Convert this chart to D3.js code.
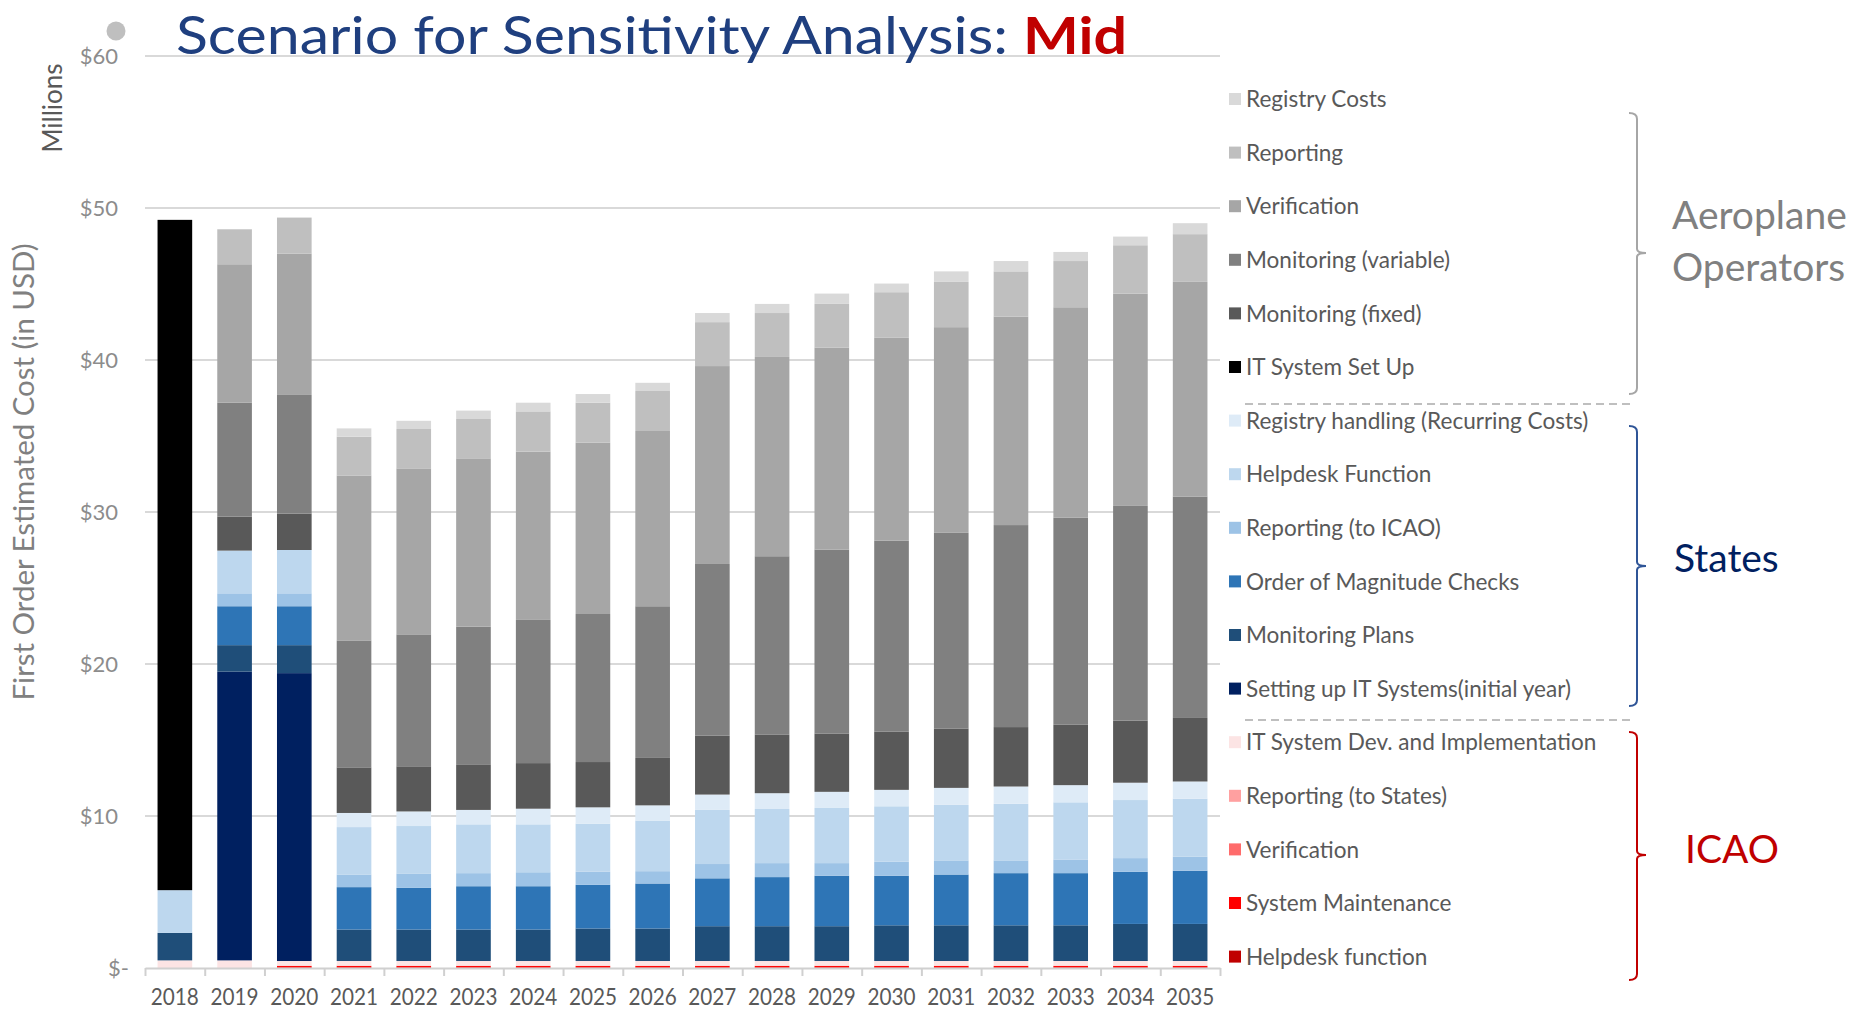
<!DOCTYPE html>
<html>
<head>
<meta charset="utf-8">
<script src="https://cdn.jsdelivr.net/npm/d3@7"></script>
<style>
  body { margin: 0; background: #fff; }
  svg { display: block; font-family: Lato, "Open Sans", sans-serif; }
</style>
</head>
<body>
<div id="main"></div>
<script>
const years = ["2018", "2019", "2020", "2021", "2022", "2023", "2024", "2025", "2026",
    "2027", "2028", "2029", "2030", "2031", "2032", "2033", "2034", "2035"];

// ICAO
const helpdeskIcao = [0, 0, 0.03, 0.03, 0.03, 0.03, 0.03, 0.03, 0.03, 0.03, 0.03, 0.03, 0.03, 0.03, 0.03, 0.03, 0.03, 0.03];
const systemMaintenance = [0, 0, 0.1, 0.1, 0.1, 0.1, 0.1, 0.1, 0.1, 0.1, 0.1, 0.1, 0.1, 0.1, 0.1, 0.1, 0.1, 0.1];
const verificationIcao = [0, 0, 0.02, 0.02, 0.02, 0.02, 0.02, 0.02, 0.02, 0.02, 0.02, 0.02, 0.02, 0.02, 0.02, 0.02, 0.02, 0.02];
const reportingToStates = [0, 0, 0.01, 0.01, 0.01, 0.01, 0.01, 0.01, 0.01, 0.01, 0.01, 0.01, 0.01, 0.01, 0.01, 0.01, 0.01, 0.01];
const itSystemDev = [0.5, 0.5, 0.3, 0.3, 0.3, 0.3, 0.3, 0.3, 0.3, 0.3, 0.3, 0.3, 0.3, 0.3, 0.3, 0.3, 0.3, 0.3];

// States
const settingUpIT = [0, 19.0, 18.94, 0, 0, 0, 0, 0, 0, 0, 0, 0, 0, 0, 0, 0, 0, 0];
const monitoringPlans = [1.81, 1.74, 1.84, 2.07, 2.07, 2.07, 2.07, 2.14, 2.14, 2.29, 2.29, 2.29, 2.35, 2.35, 2.35, 2.35, 2.44, 2.44];
const magnitudeChecks = [0, 2.56, 2.56, 2.79, 2.74, 2.85, 2.85, 2.87, 2.96, 3.15, 3.23, 3.32, 3.26, 3.34, 3.43, 3.43, 3.43, 3.5];
const reportingToIcao = [0, 0.85, 0.85, 0.83, 0.95, 0.86, 0.92, 0.86, 0.81, 0.94, 0.92, 0.83, 0.92, 0.93, 0.84, 0.9, 0.9, 0.92];
const helpdeskStates = [2.81, 2.81, 2.85, 3.12, 3.12, 3.21, 3.15, 3.17, 3.33, 3.56, 3.56, 3.63, 3.65, 3.65, 3.72, 3.76, 3.82, 3.82];
const registryHandling = [0, 0, 0, 0.93, 0.96, 0.95, 1.03, 1.07, 1.0, 1.01, 1.04, 1.06, 1.08, 1.12, 1.14, 1.13, 1.14, 1.13];

// Aeroplane operators
const itSystemSetUp = [44.1, 0, 0, 0, 0, 0, 0, 0, 0, 0, 0, 0, 0, 0, 0, 0, 0, 0];
const monitoringFixed = [0, 2.24, 2.4, 3.0, 2.97, 3.0, 3.0, 2.98, 3.12, 3.87, 3.84, 3.84, 3.84, 3.91, 3.91, 3.97, 4.08, 4.18];
const monitoringVariable = [0, 7.5, 7.8, 8.35, 8.68, 9.06, 9.42, 9.74, 9.98, 11.3, 11.75, 12.1, 12.56, 12.87, 13.29, 13.62, 14.13, 14.57];
const verificationAO = [0, 9.1, 9.3, 10.85, 10.92, 11.07, 11.07, 11.27, 11.53, 13.02, 13.11, 13.29, 13.36, 13.53, 13.71, 13.85, 13.97, 14.12];
const reportingAO = [0, 2.3, 2.37, 2.55, 2.59, 2.59, 2.65, 2.63, 2.63, 2.89, 2.89, 2.87, 2.98, 2.98, 2.98, 3.04, 3.18, 3.14];
const registryCosts = [0, 0, 0, 0.55, 0.54, 0.55, 0.57, 0.57, 0.54, 0.6, 0.6, 0.68, 0.57, 0.69, 0.68, 0.6, 0.57, 0.72];

// bottom of the stack first
const seriesNames = ["Helpdesk function", "System Maintenance", "Verification ", "Reporting (to States)",
    "IT System Dev.  and Implementation", "Setting up IT Systems(initial year)", "Monitoring Plans",
    "Order of Magnitude Checks", "Reporting (to ICAO)", "Helpdesk Function", "Registry handling (Recurring Costs)",
    "IT System Set Up", "Monitoring (fixed)", "Monitoring (variable)", "Verification", "Reporting", "Registry Costs"];
const seriesValues = [helpdeskIcao, systemMaintenance, verificationIcao, reportingToStates, itSystemDev,
    settingUpIT, monitoringPlans, magnitudeChecks, reportingToIcao, helpdeskStates, registryHandling,
    itSystemSetUp, monitoringFixed, monitoringVariable, verificationAO, reportingAO, registryCosts];
const seriesColors = ["#C00000", "#FF0000", "#FF6B6B", "#FFA0A0", "#FCE4E4",
    "#002060", "#1F4E79", "#2E75B6", "#9DC3E6", "#BDD7EE", "#DEEBF7",
    "#000000", "#595959", "#808080", "#A6A6A6", "#BFBFBF", "#D9D9D9"];

const yTicks = [0, 10, 20, 30, 40, 50, 60];

onload = () => {
    let svg = d3.select("#main").append("svg");
    svg.attr("width", 1870).attr("height", 1012);

    let table = years.map((yr, i) => {
        let row = { year: yr };
        seriesNames.forEach((n, k) => row[n] = seriesValues[k][i]);
        return row;
    });
    let stacked = d3.stack().keys(seriesNames)(table);
    let color = d3.scaleOrdinal().domain(seriesNames).range(seriesColors);

    let xScale = d3.scaleBand().domain(years).range([145, 1220]).paddingInner(0.42).paddingOuter(0.21);
    let yScale = d3.scaleLinear().domain([0, 60]).range([968, 56]);

    function squeeze(sel, k) {
        sel.each(function () {
            let w = this.getComputedTextLength();
            d3.select(this).attr("textLength", w * k).attr("lengthAdjust", "spacingAndGlyphs");
        });
    }

    // gridlines
    svg.append("g")
        .selectAll("line")
        .data(yTicks.filter((d) => d > 0))
        .join("line")
        .attr("x1", 145).attr("x2", 1220)
        .attr("y1", (d) => yScale(d)).attr("y2", (d) => yScale(d))
        .attr("stroke", "#D9D9D9").attr("stroke-width", 2);

    // bars
    svg.append("g")
        .selectAll("g")
        .data(stacked)
        .join("g")
        .attr("fill", (d) => color(d.key))
        .selectAll("rect")
        .data((d) => d)
        .join("rect")
        .attr("x", (d) => xScale(d.data.year))
        .attr("width", xScale.bandwidth())
        .attr("y", (d) => yScale(d[1]))
        .attr("height", (d) => yScale(d[0]) - yScale(d[1]));

    // y axis labels
    let yAxis = svg.append("g")
        .attr("transform", "translate(145,0)")
        .call(d3.axisLeft(yScale).tickValues(yTicks).tickSize(0).tickPadding(27)
            .tickFormat((d) => d === 0 ? "$-" : "$" + d));
    yAxis.select(".domain").remove();
    yAxis.selectAll("text")
        .style("font-size", "22px").attr("fill", "#8C8C8C").attr("font-family", "Lato")
        .attr("dx", (d) => d === 0 ? 11 : 0);

    // x axis line with boundary ticks
    let edge = d3.scaleLinear().domain([0, years.length]).range([145, 1220]);
    let xLine = svg.append("g")
        .attr("transform", "translate(0,968)")
        .call(d3.axisBottom(edge).tickValues(d3.range(years.length + 1)).tickSize(8).tickSizeOuter(0).tickFormat(""));
    xLine.selectAll("path, line").attr("stroke", "#D0D0D0").attr("stroke-width", 2);

    let xAxis = svg.append("g")
        .attr("transform", "translate(0,968)")
        .call(d3.axisBottom(xScale).tickSize(0).tickPadding(21));
    xAxis.select(".domain").remove();
    xAxis.selectAll("text")
        .style("font-size", "23px").attr("fill", "#595959").attr("font-family", "Lato")
        .call(squeeze, 0.9);

    // axis titles
    svg.append("text")
        .attr("transform", "translate(62,108) rotate(-90)")
        .attr("text-anchor", "middle")
        .style("font-size", "26px").attr("fill", "#595959")
        .text("Millions");
    svg.append("text")
        .attr("transform", "translate(34,472) rotate(-90)")
        .attr("text-anchor", "middle")
        .style("font-size", "28px").attr("fill", "#808080")
        .attr("textLength", 457).attr("lengthAdjust", "spacingAndGlyphs")
        .text("First Order Estimated Cost (in USD)");

    // title
    svg.append("circle").attr("cx", 116).attr("cy", 31).attr("r", 9.5).attr("fill", "#BFBFBF");
    let title = svg.append("text")
        .attr("x", 176).attr("y", 54)
        .style("font-size", "52px")
        .attr("textLength", 951).attr("lengthAdjust", "spacingAndGlyphs");
    title.append("tspan").attr("fill", "#1F3F7F").text("Scenario for Sensitivity Analysis: ");
    title.append("tspan").attr("fill", "#C00000").attr("font-weight", "bold").text("Mid");

    // legend (top of stack first)
    let legendNames = seriesNames.slice().reverse();
    let legend = svg.append("g")
        .selectAll("g")
        .data(legendNames)
        .join("g")
        .attr("transform", (d, i) => `translate(1229, ${99 + i * 53.6})`);
    legend.append("rect")
        .attr("x", 0).attr("y", -6).attr("width", 12).attr("height", 12)
        .attr("fill", (d) => color(d));
    legend.append("text")
        .attr("x", 17).attr("dy", "0.36em")
        .style("font-size", "23px").attr("fill", "#595959")
        .text((d) => d.trim())
        .call(squeeze, 0.98);

    // dashed separators between the groups
    svg.append("g")
        .selectAll("line")
        .data([404, 720])
        .join("line")
        .attr("x1", 1245).attr("x2", 1630)
        .attr("y1", (d) => d).attr("y2", (d) => d)
        .attr("stroke", "#BFBFBF").attr("stroke-width", 2).attr("stroke-dasharray", "8,5");

    // braces and group names
    let groups = [
        { top: 113, mid: 253, bottom: 394, stroke: "#A6A6A6" },
        { top: 426, mid: 566, bottom: 706, stroke: "#2F5597" },
        { top: 732, mid: 855, bottom: 980, stroke: "#C00000" }
    ];
    svg.append("g")
        .selectAll("path")
        .data(groups)
        .join("path")
        .attr("fill", "none").attr("stroke-width", 2)
        .attr("stroke", (d) => d.stroke)
        .attr("d", (d) => `M1629,${d.top} Q1637,${d.top} 1637,${d.top + 6} V${d.mid - 4} Q1637,${d.mid} 1646,${d.mid}`
            + ` Q1637,${d.mid} 1637,${d.mid + 4} V${d.bottom - 6} Q1637,${d.bottom} 1629,${d.bottom}`);

    let groupText = svg.append("g").style("font-size", "39px");
    groupText.append("text").attr("x", 1672).attr("y", 229).attr("fill", "#808080").text("Aeroplane");
    groupText.append("text").attr("x", 1672).attr("y", 281).attr("fill", "#808080").text("Operators");
    groupText.append("text").attr("x", 1674).attr("y", 572).attr("fill", "#002060").text("States");
    groupText.append("text").attr("x", 1685).attr("y", 863).attr("fill", "#C00000").text("ICAO");
};
</script>
</body>
</html>
